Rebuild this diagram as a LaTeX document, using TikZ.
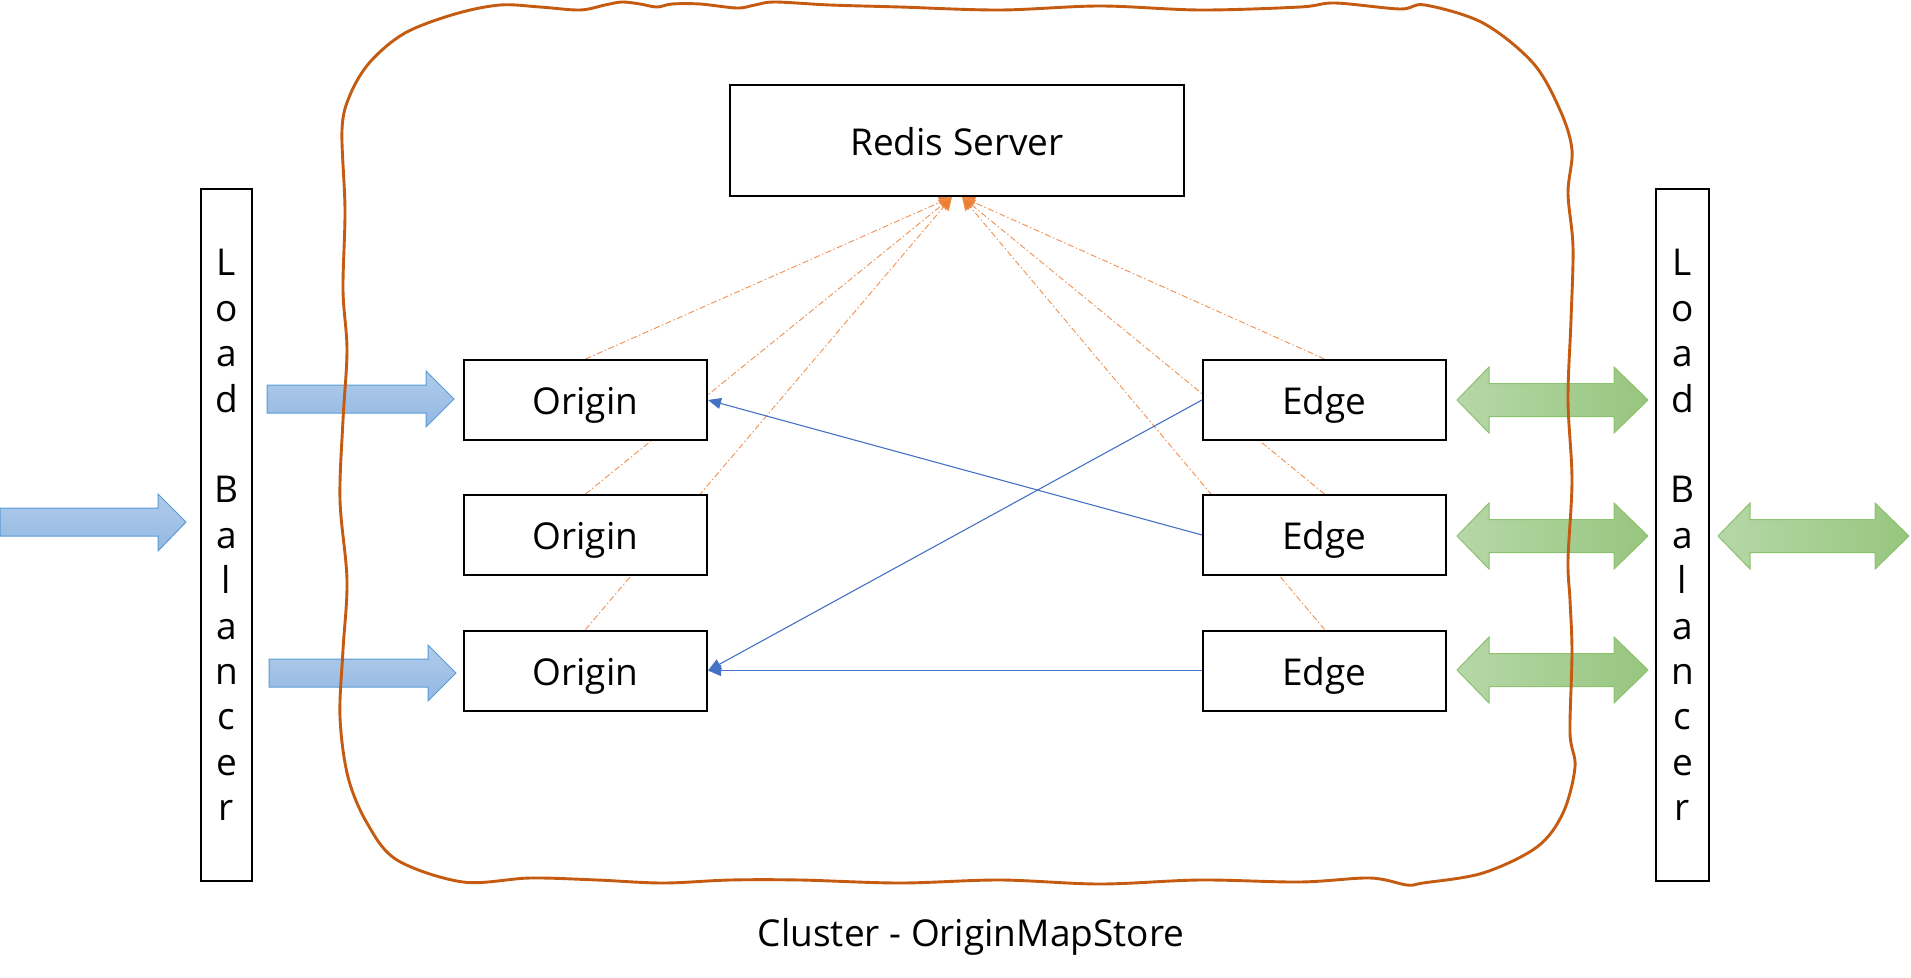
\documentclass[tikz,border=0pt]{standalone}
\usepackage{fontspec}
\setmainfont{Open Sans}
\usetikzlibrary{arrows.meta}
\definecolor{cloudc}{HTML}{C55A11}
\definecolor{orln}{HTML}{ED7D31}
\definecolor{bluln}{HTML}{4472C4}
\definecolor{bluetop}{HTML}{B0CBEA}
\definecolor{bluebot}{HTML}{93B8E2}
\definecolor{bluebd}{HTML}{5B9BD5}
\definecolor{grnl}{HTML}{B6D7A8}
\definecolor{grnr}{HTML}{97C67E}
\definecolor{grnbd}{HTML}{8CC26E}
\pgfdeclarelayer{back}
\pgfdeclarelayer{mid}
\pgfsetlayers{back,mid,main}
\begin{document}
\begin{tikzpicture}[x=1pt,y=-1pt,
  box/.style={draw=black, line width=2pt, fill=white, inner sep=0pt,
    text height=29pt, text depth=0pt,
    font=\fontsize{37}{44}\selectfont},
  lbbox/.style={draw=black, line width=2pt, fill=white, inner sep=0pt,
    minimum height=692pt, align=center, font=\fontsize{37}{45.4}\selectfont},
  redisline/.style={draw=orln!85, line width=0.9pt,
    dash pattern=on 6pt off 2.5pt on 1.5pt off 2.5pt,
    -{Triangle[length=13pt,width=13pt,fill=orln]}},
  blueline/.style={draw=bluln, line width=1.1pt,
    -{Triangle[length=13pt,width=11pt]}},
  barrow/.style={draw=bluebd, line width=1pt, top color=bluetop, bottom color=bluebot},
  garrow/.style={draw=grnbd, line width=1pt, left color=grnl, right color=grnr},
  cloudline/.style={draw=cloudc, line width=2.9pt}
]
\useasboundingbox (0,0) rectangle (1911,977);

% nodes
\node[box, minimum width=454pt, minimum height=111pt] (redis) at (957,140.5) {Redis Server};
\node[box, minimum width=243pt, minimum height=80pt] (o1) at (585.5,400) {Origin};
\node[box, minimum width=243pt, minimum height=80pt] (o2) at (585.5,535) {Origin};
\node[box, minimum width=243pt, minimum height=80pt] (o3) at (585.5,670.5) {Origin};
\node[box, minimum width=243pt, minimum height=80pt] (e1) at (1324.5,400) {Edge};
\node[box, minimum width=243pt, minimum height=80pt] (e2) at (1324.5,535) {Edge};
\node[box, minimum width=243pt, minimum height=80pt] (e3) at (1324.5,670.5) {Edge};
\node[lbbox, minimum width=51pt] (lbl) at (226.5,535)
  {L\\o\\a\\d\\\mbox{}\\B\\a\\l\\a\\n\\c\\e\\r};
\node[lbbox, minimum width=53pt] (lbr) at (1682.5,535)
  {L\\o\\a\\d\\\mbox{}\\B\\a\\l\\a\\n\\c\\e\\r};
\node[font=\fontsize{37}{44}\selectfont] (title) at (971,937) {Cluster - OriginMapStore};

\coordinate (rl) at ([xshift=-5pt]redis.south);
\coordinate (rr) at ([xshift=5pt]redis.south);

\begin{pgfonlayer}{back}
  % blue block arrows
  \draw[barrow] (0,508) -- (158,508) -- (158,494) -- (186,522) -- (158,551) -- (158,536) -- (0,536) -- cycle;
  \draw[barrow] (267,385) -- (426,385) -- (426,371) -- (454,399) -- (426,427) -- (426,413) -- (267,413) -- cycle;
  \draw[barrow] (269,659) -- (428,659) -- (428,645) -- (456,673) -- (428,701) -- (428,687) -- (269,687) -- cycle;
  % green double arrows
  \foreach \cy/\xl/\xr in {400/1457/1648, 536/1457/1648, 670/1457/1648, 536/1718/1909}{
    \draw[garrow] (\xl,\cy) -- (\xl+32,\cy-33) -- (\xl+32,\cy-16.5) -- (\xr-34,\cy-16.5) -- (\xr-34,\cy-33)
      -- (\xr,\cy) -- (\xr-34,\cy+33) -- (\xr-34,\cy+16.5) -- (\xl+32,\cy+16.5) -- (\xl+32,\cy+33) -- cycle;
  }
  % cloud
  \draw[cloudline] plot[smooth cycle, tension=0.55] coordinates {
    (345,210) (342,130) (350,95) (370,62) (405,33) (455,14) (500,5) (540,7) (580,10)
    (605,5) (622,2) (640,4) (657,7) (672,4) (700,4) (737,8) (755,5) (775,2) (830,5)
    (900,7) (1000,10) (1100,6) (1200,10) (1300,7) (1335,3) (1400,9) (1425,5) (1483,23)
    (1533,63) (1560,110) (1572,150) (1568,193) (1573,247) (1571,320) (1568,400)
    (1572,480) (1568,560) (1570,600) (1572,653) (1570,733) (1575,767) (1563,813)
    (1537,847) (1483,873) (1423,883) (1407,885) (1370,878) (1300,882) (1200,880)
    (1100,884) (1000,880) (900,883) (800,880) (730,880) (663,883) (597,880) (530,878)
    (463,882) (397,860) (367,823) (348,777) (340,717) (343,650) (347,580) (340,500)
    (343,420) (347,350) (343,290)};
\end{pgfonlayer}

\begin{pgfonlayer}{mid}
  \draw[redisline] (o1.north) -- (rl);
  \draw[redisline] (o2.north) -- (rl);
  \draw[redisline] (o3.north) -- (rl);
  \draw[redisline] (e1.north) -- (rr);
  \draw[redisline] (e2.north) -- (rr);
  \draw[redisline] (e3.north) -- (rr);
  \draw[blueline] (e2.west) -- (o1.east);
  \draw[blueline] (e1.west) -- (o3.east);
  \draw[blueline] (e3.west) -- (o3.east);
\end{pgfonlayer}
\end{tikzpicture}
\end{document}
